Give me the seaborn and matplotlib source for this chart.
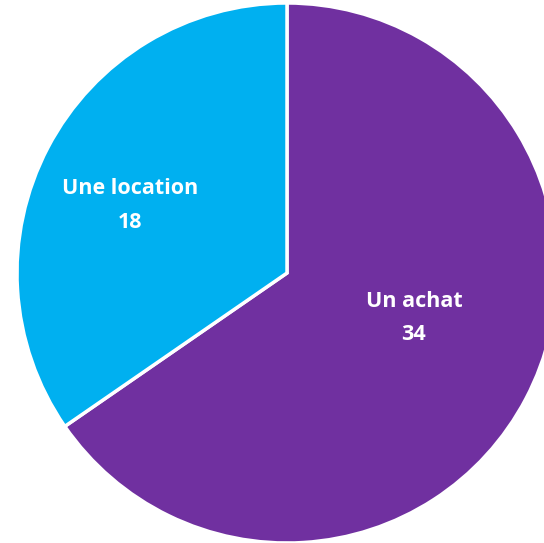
import matplotlib
matplotlib.use("Agg")
import numpy as np
import seaborn as sns
import matplotlib.pyplot as plt

# Data
categories = ["Un achat", "Une location"]
values = [34, 18]
colors = ["#7030A0", "#00B0F0"]

sns.set_theme(style="white")
plt.rcParams['font.family'] = ['Open Sans', 'DejaVu Sans']

fig = plt.figure(figsize=(5.44, 5.43), dpi=100)
# pie centre at ~(287, 273) px, radius ~270 px; right side is cut by the frame
r_px = 270
ax = fig.add_axes([(287 - r_px) / 544, (543 - 273 - r_px) / 543, 2 * r_px / 544, 2 * r_px / 543])

wedges, _ = ax.pie(values, colors=colors, startangle=90, counterclock=False,
                   wedgeprops=dict(edgecolor="white", linewidth=2.5))
ax.set_xlim(-1, 1)
ax.set_ylim(-1, 1)
ax.set_aspect("equal")
ax.axis("off")

# label positions (Excel-style placement inside each slice)
label_pos = [(0.47, -0.165), (-0.58, 0.25)]
for cat, val, (x, y) in zip(categories, values, label_pos):
    ax.text(x, y, f"{cat}\n{val}", ha="center", va="center", color="white",
            fontsize=15.5, fontweight="bold", linespacing=1.75)

fig.savefig("out.png", dpi=100)
